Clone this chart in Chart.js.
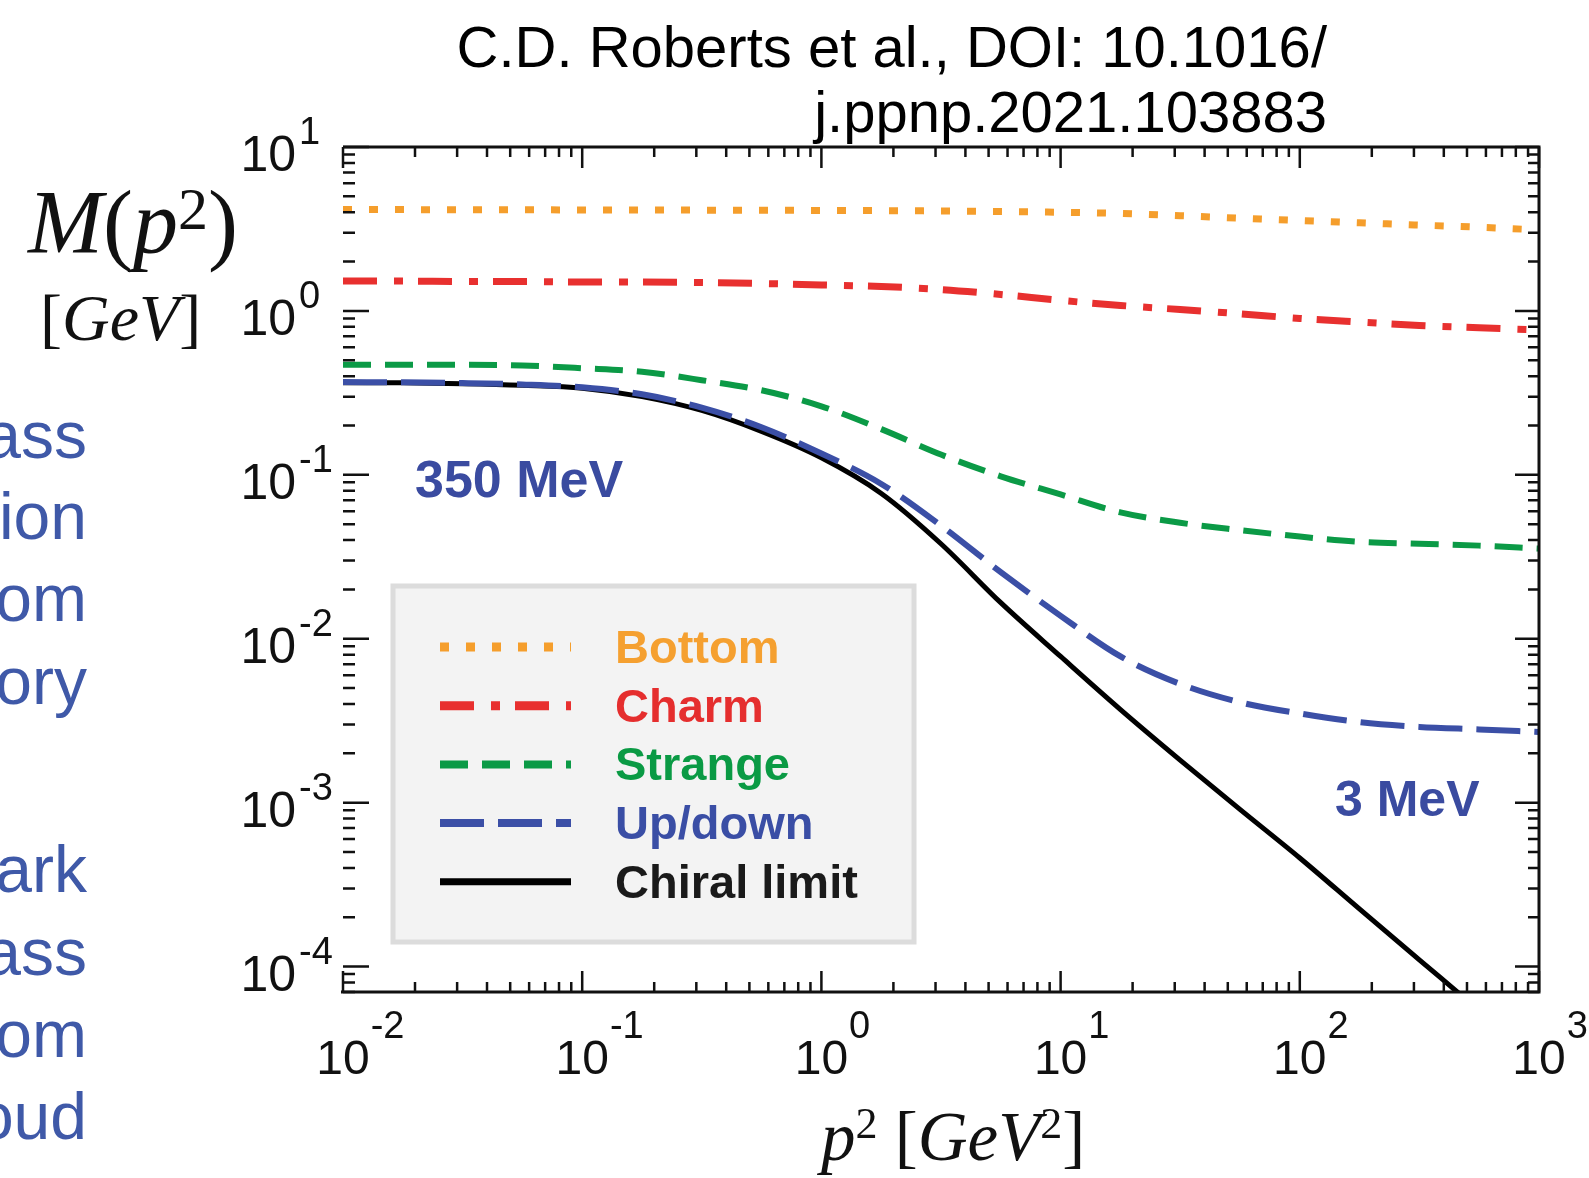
<!DOCTYPE html>
<html>
<head>
<meta charset="utf-8">
<script src="https://cdn.jsdelivr.net/npm/chart.js@4.4.1/dist/chart.umd.min.js"></script>
<style>
  html, body { margin: 0; padding: 0; background: #fff; }
  #wrap { position: relative; width: 1589px; height: 1178px; overflow: hidden; }
  #chart, #overlay { position: absolute; left: 0; top: 0; }
  #overlay { pointer-events: none; }
  .sans { font-family: "Liberation Sans", Arial, sans-serif; }
  .serif { font-family: "Liberation Serif", "Times New Roman", serif; }
</style>
</head>
<body>
<div id="wrap">
  <canvas id="chart" width="1589" height="1178"></canvas>
  <svg id="overlay" width="1589" height="1178">
    <g class="sans" font-size="58" fill="#000" text-anchor="end">
      <text x="1327" y="67">C.D. Roberts et al., DOI: 10.1016/</text>
      <text x="1327" y="132">j.ppnp.2021.103883</text>
    </g>
    <g class="sans" font-size="66" fill="#3F59A8" text-anchor="end">
      <text x="87" y="458">ass</text>
      <text x="87" y="539">ion</text>
      <text x="87" y="621">om</text>
      <text x="87" y="704">ory</text>
      <text x="87" y="892">ark</text>
      <text x="87" y="975">ass</text>
      <text x="87" y="1057">om</text>
      <text x="87" y="1139">oud</text>
    </g>
    <g class="serif" fill="#111">
      <text x="28" y="253" font-size="90"><tspan font-style="italic">M</tspan>(<tspan font-style="italic">p</tspan><tspan font-size="60" dy="-24">2</tspan><tspan dy="24">)</tspan></text>
      <text x="40" y="340" font-size="66">[<tspan font-style="italic">GeV</tspan>]</text>
      <text x="821" y="1160" font-size="69"><tspan font-style="italic">p</tspan><tspan font-size="44" dy="-22">2</tspan><tspan dy="22"> [</tspan><tspan font-style="italic">GeV</tspan><tspan font-size="44" dy="-22">2</tspan><tspan dy="22">]</tspan></text>
    </g>
    <g class="sans" font-weight="bold" fill="#3A4BA0">
      <text x="415" y="497" font-size="52">350 MeV</text>
      <text x="1335" y="816" font-size="50">3 MeV</text>
    </g>
    <g id="legend"></g>
  </svg>
</div>
<script>
// p^2 sample points [GeV^2]
const p2 = [0.01, 0.0178, 0.0316, 0.0562, 0.1, 0.178, 0.316, 0.562, 1, 1.78, 3.16, 5.62,
  10, 17.8, 31.6, 56.2, 100, 178, 316, 562, 1000];

// M(p^2) [GeV]
const bottomMass = [4.15, 4.15, 4.14, 4.14, 4.13, 4.13, 4.12, 4.12, 4.10, 4.09, 4.07, 4.04,
  4.00, 3.93, 3.81, 3.68, 3.56, 3.45, 3.34, 3.24, 3.12];
const charmMass = [1.52, 1.52, 1.51, 1.51, 1.50, 1.50, 1.49, 1.47, 1.44, 1.41, 1.35, 1.26,
  1.16, 1.08, 1.02, 0.96, 0.90, 0.855, 0.815, 0.79, 0.765];
const strangeMass = [0.47, 0.47, 0.47, 0.465, 0.447, 0.425, 0.378, 0.328, 0.262, 0.19, 0.133, 0.098,
  0.076, 0.059, 0.051, 0.046, 0.042, 0.039, 0.038, 0.037, 0.0355];
const upDownMass = [0.368, 0.367, 0.363, 0.356, 0.342, 0.31, 0.257, 0.195, 0.135, 0.088, 0.049, 0.0255,
  0.0138, 0.0078, 0.0053, 0.0041, 0.0035, 0.0031, 0.0029, 0.0028, 0.0027];
const chiralMass = [0.365, 0.364, 0.36, 0.352, 0.338, 0.30, 0.247, 0.184, 0.127, 0.077, 0.038, 0.0166,
  0.0078, 0.0037, 0.00182, 0.00091, 0.00046, 0.000224, 0.00011, 0.000054, 0.000026];

// decade exponents for the tick labels
const xTickExps = [-2, -1, 0, 1, 2, 3];
const yTickExps = [-4, -3, -2, -1, 0, 1];

const series = [
  { label: 'Bottom', data: bottomMass, color: '#F59E2C', text: '#F5A030', dash: [9, 17], width: 7 },
  { label: 'Charm', data: charmMass, color: '#E8302F', text: '#E52E2E', dash: [34, 17, 9, 15], width: 7 },
  { label: 'Strange', data: strangeMass, color: '#0B9A46', text: '#0A9A44', dash: [28, 14], width: 6 },
  { label: 'Up/down', data: upDownMass, color: '#3B4FA6', text: '#3A4EA5', dash: [44, 14], width: 6 },
  { label: 'Chiral limit', data: chiralMass, color: '#000000', text: '#1a1a1a', dash: [], width: 5 },
];

// legend box (inside the plot, lower left)
const NS = 'http://www.w3.org/2000/svg';
const legend = document.getElementById('legend');
const mk = (tag, attrs, txt) => {
  const el = document.createElementNS(NS, tag);
  Object.entries(attrs).forEach(([k, v]) => el.setAttribute(k, v));
  if (txt) el.textContent = txt;
  legend.appendChild(el);
  return el;
};
mk('rect', { x: 393, y: 586, width: 521, height: 356, fill: '#f3f3f3', stroke: '#dcdcdc', 'stroke-width': 5 });
series.forEach((s, i) => {
  const ly = 647 + i * 58.7;
  mk('line', {
    x1: 440, x2: 571, y1: ly, y2: ly, stroke: s.color, 'stroke-width': s.width + 2,
    'stroke-dasharray': s.dash.length ? s.dash.join(' ') : 'none',
  });
  mk('text', {
    x: 615, y: ly + 16, fill: s.text, 'font-size': 47, 'font-weight': 'bold',
    'font-family': '"Liberation Sans", Arial, sans-serif',
  }, s.label);
});

const decadeTicks = (exps) => {
  const out = [];
  exps.forEach((e) => {
    out.push({ v: 10 ** e, major: true });
    for (let k = 2; k <= 9; k++) out.push({ v: k * 10 ** e, major: false });
  });
  return out;
};

const framePlugin = {
  id: 'frame',
  afterDraw(chart) {
    const { ctx, chartArea: a, scales: { x, y } } = chart;
    ctx.save();
    ctx.strokeStyle = '#111';
    ctx.lineWidth = 3;
    ctx.beginPath();
    ctx.moveTo(a.left, a.top);
    ctx.lineTo(a.right, a.top);
    ctx.lineTo(a.right, a.bottom);
    ctx.lineTo(a.left - 2, a.bottom);
    ctx.stroke();

    ctx.lineWidth = 2.5;
    ctx.beginPath();
    decadeTicks([-2, -1, 0, 1, 2, 3]).forEach((t) => {
      if (t.v < x.min || t.v > x.max) return;
      const px = x.getPixelForValue(t.v);
      const len = t.major ? 21 : 10;
      ctx.moveTo(px, a.bottom); ctx.lineTo(px, a.bottom - len);
      ctx.moveTo(px, a.top); ctx.lineTo(px, a.top + len);
    });
    decadeTicks([-5, -4, -3, -2, -1, 0, 1]).forEach((t) => {
      if (t.v < y.min || t.v > y.max) return;
      const py = y.getPixelForValue(t.v);
      ctx.moveTo(a.left, py); ctx.lineTo(a.left + (t.major ? 26 : 12), py);
      ctx.moveTo(a.right, py); ctx.lineTo(a.right - (t.major ? 24 : 11), py);
    });
    ctx.stroke();

    ctx.fillStyle = '#111';
    const base = '"Liberation Sans", Arial, sans-serif';
    xTickExps.forEach((e) => {
      const px = x.getPixelForValue(10 ** e);
      ctx.font = `48px ${base}`;
      ctx.textAlign = 'center';
      const w = ctx.measureText('10').width;
      ctx.fillText('10', px, a.bottom + 82);
      ctx.font = `38px ${base}`;
      ctx.textAlign = 'left';
      ctx.fillText(String(e), px + w / 2 + 1, a.bottom + 46);
    });
    yTickExps.forEach((e) => {
      const py = y.getPixelForValue(10 ** e);
      ctx.font = `50px ${base}`;
      ctx.textAlign = 'right';
      ctx.fillText('10', a.left - 47, py + 24);
      ctx.font = `38px ${base}`;
      ctx.textAlign = 'left';
      ctx.fillText(String(e), a.left - 44, py - 3);
    });
    ctx.restore();
  },
};

new Chart(document.getElementById('chart'), {
  type: 'line',
  data: {
    datasets: series.map((s) => ({
      label: s.label,
      data: p2.map((v, i) => ({ x: v, y: s.data[i] })),
      borderColor: s.color,
      borderWidth: s.width,
      borderDash: s.dash,
      borderCapStyle: 'butt',
      pointRadius: 0,
      fill: false,
      cubicInterpolationMode: 'monotone',
    })),
  },
  options: {
    responsive: false,
    animation: false,
    devicePixelRatio: 1,
    layout: { padding: { left: 343, right: 50, top: 147, bottom: 186 } },
    plugins: { legend: { display: false }, tooltip: { enabled: false } },
    scales: {
      x: { type: 'logarithmic', min: 0.01, max: 1000, display: false },
      y: { type: 'logarithmic', min: 7.05e-5, max: 10, display: false },
    },
  },
  plugins: [framePlugin],
});
</script>
</body>
</html>
